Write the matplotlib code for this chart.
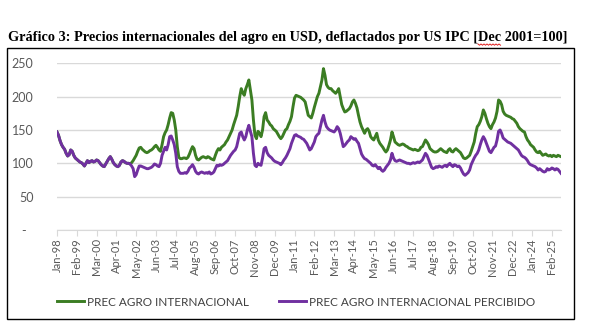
import matplotlib.pyplot as plt
import numpy as np
from matplotlib.lines import Line2D
from matplotlib.patches import Rectangle

plt.rcParams['font.family'] = ['Lato', 'DejaVu Sans']

# 1998-2001: ambas series coinciden
precio_comun = [
    147, 142, 134, 128, 124, 121, 115, 111, 113, 120, 118, 112,
    108, 106, 104, 102, 101, 99, 96, 100, 104, 101, 103, 104,
    102, 103, 105, 104, 101, 98, 96, 95, 99, 103, 107, 110,
    106, 101, 98, 96, 95, 97, 102, 104, 103, 101, 100, 100,
]

# 2002 en adelante
prec_agro = [
    99, 101, 104, 108, 112, 118, 123, 124, 121, 119, 117, 116,
    117, 119, 120, 122, 125, 127, 124, 120, 118, 128, 140, 146,
    150, 158, 168, 176, 175, 165, 150, 125, 109, 107, 107, 108,
    108, 107, 109, 114, 120, 125, 122, 112, 106, 105, 107, 109,
    110, 109, 108, 110, 109, 107, 106, 105, 112, 118, 122, 120,
    124, 126, 128, 132, 135, 140, 145, 150, 158, 165, 172, 185,
    200, 212, 206, 202, 212, 218, 225, 210, 195, 165, 142, 137,
    148, 145, 140, 150, 170, 176, 165, 162, 158, 156, 152, 150,
    148, 144, 140, 137, 140, 145, 150, 152, 158, 163, 170, 185,
    198, 202, 201, 200, 199, 197, 195, 192, 182, 172, 170, 168,
    175, 184, 192, 200, 205, 215, 225, 242, 232, 218, 214, 212,
    212, 209, 207, 205, 208, 212, 200, 188, 182, 177, 178, 180,
    182, 186, 192, 195, 190, 183, 172, 162, 155, 150, 145, 150,
    152, 148, 140, 137, 135, 140, 145, 135, 130, 127, 124, 120,
    117, 120, 127, 135, 147, 140, 132, 130, 128, 127, 128, 129,
    128, 126, 125, 123, 122, 121, 120, 121, 120, 119, 120, 124,
    125, 130, 135, 132, 128, 122, 120, 118, 117, 117, 118, 120,
    122, 120, 118, 117, 116, 120, 122, 118, 117, 120, 122, 120,
    118, 116, 112, 108, 107, 108, 110, 112, 118, 125, 132, 145,
    155, 158, 163, 170, 180, 175, 167, 160, 155, 152, 158, 162,
    168, 178, 195, 193, 188, 178, 174, 172, 171, 170, 169, 167,
    166, 163, 160, 155, 152, 150, 148, 147, 140, 135, 132, 128,
    126, 124, 120, 117, 116, 118, 115, 112, 113, 114, 112, 111,
    112, 110, 112, 111, 110, 112, 111, 110,
]

prec_percibido = [
    99, 96, 92, 80, 83, 90, 96, 96, 95, 94, 93, 92,
    92, 93, 94, 96, 99, 98, 96, 95, 100, 112, 118, 124,
    120, 128, 140, 141, 135, 128, 115, 95, 88, 85, 85, 85,
    86, 85, 88, 93, 95, 98, 94, 88, 85, 84, 86, 87,
    86, 85, 86, 85, 87, 84, 85, 87, 92, 97, 96, 98,
    97, 98, 100, 102, 104, 108, 112, 115, 118, 120, 125, 135,
    145, 147, 140, 135, 140, 150, 157, 148, 140, 115, 97, 95,
    100, 98, 97, 108, 122, 124, 116, 112, 110, 108, 105, 103,
    102, 101, 100, 98, 101, 105, 108, 112, 117, 122, 130, 136,
    142, 143, 141, 140, 139, 137, 136, 133, 130, 125, 120, 122,
    127, 132, 140, 143, 145, 155, 165, 172, 162, 155, 152, 150,
    149, 148, 147, 150, 155, 152, 145, 135, 125, 127, 130, 133,
    135, 140, 138, 136, 137, 133, 130, 122, 114, 110, 107, 106,
    104, 102, 100, 97, 96, 98, 95, 92, 94, 90, 88, 90,
    94, 97, 100, 105, 115, 108, 104, 103, 104, 105, 104, 103,
    102, 101, 100, 100, 99, 100, 101, 100, 101, 102, 101, 103,
    105, 110, 115, 112, 106, 100, 94, 92, 93, 95, 94, 96,
    95, 94, 96, 97, 95, 98, 100, 97, 95, 98, 97, 95,
    96, 93, 88, 84, 82, 84, 86, 90, 98, 103, 108, 112,
    115, 120, 128, 135, 140, 136, 130, 124, 118, 116, 120, 124,
    126, 135, 148, 150, 145, 138, 136, 134, 132, 131, 130, 128,
    126, 124, 122, 120, 116, 112, 110, 109, 107, 104, 100, 98,
    97, 96, 95, 93, 90, 92, 90, 88, 87, 88, 92, 90,
    91, 93, 92, 90, 92, 91, 88, 85,
]

etiquetas_x = ['Jan-98', 'Feb-99', 'Mar-00', 'Apr-01', 'May-02', 'Jun-03',
               'Jul-04', 'Aug-05', 'Sep-06', 'Oct-07', 'Nov-08', 'Dec-09',
               'Jan-11', 'Feb-12', 'Mar-13', 'Apr-14', 'May-15', 'Jun-16',
               'Jul-17', 'Aug-18', 'Sep-19', 'Oct-20', 'Nov-21', 'Dec-22',
               'Jan-24', 'Feb-25']
ticks_y = [0, 50, 100, 150, 200, 250]
etiquetas_y = ['-  ', '50', '100', '150', '200', '250']

agro = np.array(precio_comun + prec_agro)
percibido = np.array(precio_comun + prec_percibido)
x = np.arange(len(agro))

VERDE = '#3B7D23'
VIOLETA = '#7030A0'
GRIS = '#595959'

W, H = 591, 335
fig = plt.figure(figsize=(W / 100, H / 100), dpi=100)
ax = fig.add_axes([57 / W, 1 - 230 / H, (561 - 57) / W, (230 - 63.3) / H])

ax.plot(x, agro, color=VERDE, lw=2.1, label='PREC AGRO INTERNACIONAL')
ax.plot(x, percibido, color=VIOLETA, lw=2.1, label='PREC AGRO INTERNACIONAL PERCIBIDO')

ax.set_xlim(0, len(x) - 1)
ax.set_ylim(0, 250)
ax.set_yticks(ticks_y)
ax.set_yticklabels(etiquetas_y)
ax.set_xticks(np.arange(0, len(x), 13))
ax.set_xticklabels(etiquetas_x, rotation=90)

ax.grid(axis='y', color='#d9d9d9', lw=1)
ax.set_axisbelow(True)
for s in ['top', 'right', 'left']:
    ax.spines[s].set_visible(False)
ax.spines['bottom'].set_color('#d9d9d9')
ax.tick_params(axis='x', length=4, color='#d9d9d9', labelsize=8, labelcolor=GRIS, pad=2)
ax.tick_params(axis='y', length=0, labelsize=9, labelcolor=GRIS, pad=17)

fig.legend(loc='center', bbox_to_anchor=(296 / W, 1 - 302 / H), ncol=2, frameon=False,
           fontsize=8.5, handlelength=2.3, handletextpad=0.2, columnspacing=2.6,
           labelcolor='#404040')

# marco del gráfico
fig.add_artist(Rectangle((7 / W, 1 - 319 / H), (574 - 7) / W, (319 - 48) / H,
                         transform=fig.transFigure, fill=False, ec='black', lw=1))

# título
titulo_props = dict(fontfamily='Liberation Serif', fontweight='bold', fontsize=10.3, va='baseline')
base_y = H - 41
fig.text(8 / W, base_y / H, 'Gráfico 3: Precios internacionales del agro en USD, '
         'deflactados por US IPC [Dec 2001=100]', **titulo_props)

# subrayado ondulado bajo "Dec"
fig.canvas.draw()
rend = fig.canvas.get_renderer()
tmp = fig.text(0, 0, 'Gráfico 3: Precios internacionales del agro en USD, '
               'deflactados por US IPC [', **titulo_props)
x0 = 8 + tmp.get_window_extent(rend).width
tmp.remove()
tmp = fig.text(0, 0, 'Dec', **titulo_props)
ancho = tmp.get_window_extent(rend).width
tmp.remove()
xs = np.arange(x0, x0 + ancho + 0.1, 1.5)
ys = base_y - 3 - 1.2 * (np.arange(len(xs)) % 2)
fig.add_artist(Line2D(xs / W, ys / H, transform=fig.transFigure, color='#e02020', lw=0.7))

fig.savefig('out.png', dpi=100)
